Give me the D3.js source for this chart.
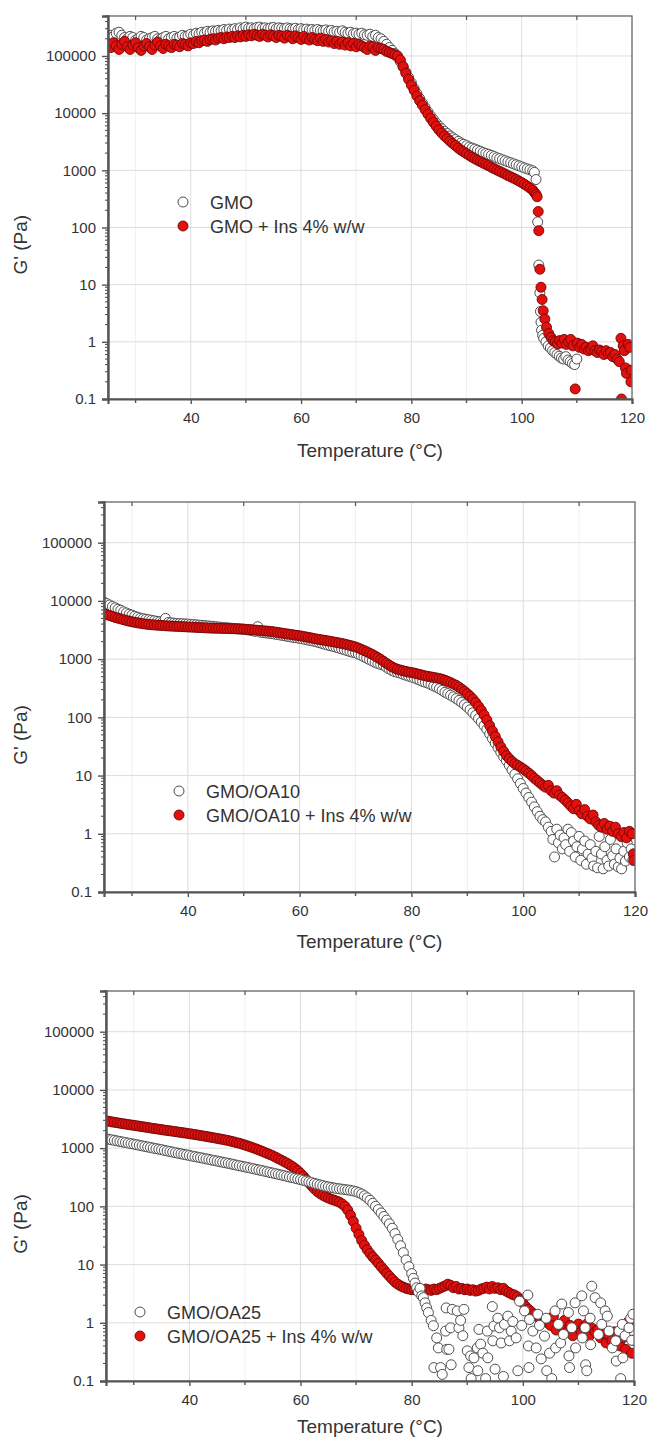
<!DOCTYPE html>
<html><head><meta charset="utf-8">
<script src="https://cdn.jsdelivr.net/npm/d3@7"></script>
<style>body{margin:0;background:#fff}svg{display:block}text{font-family:"Liberation Sans",Arial,sans-serif;fill:#333}</style>
</head><body><svg id="c" width="649" height="1440"></svg>
<script>
const xTicks=[40,60,80,100,120];
const xMinorTicks=[30,50,70,90,110];
const yTicks=[0.1,1,10,100,1000,10000,100000];
const yTickLabels=["0.1","1","10","100","1000","10000","100000"];
const xTitle="Temperature (°C)";
const yTitle="G' (Pa)";
const seriesNames=[["GMO","GMO + Ins 4% w/w"],["GMO/OA10","GMO/OA10 + Ins 4% w/w"],["GMO/OA25","GMO/OA25 + Ins 4% w/w"]];

const gmo=[[25,2.1e5],[25.5,2.3e5],[26,2.2e5],[26.5,2.5e5],[27,2.6e5],[27.5,2.3e5],[28,2.1e5],[28.5,2.0e5],[29,2.2e5],[29.5,2.1e5],[30,1.9e5],[30.5,2.0e5],[31,2.2e5],[31.5,2.1e5],[32,1.9e5],[32.5,2.0e5],[33,2.1e5],[33.5,2.2e5],[34,2.0e5],[34.5,1.95e5],[35,2.1e5],[35.5,2.2e5],[36,2.0e5],[36.5,2.1e5],[37,2.2e5],[37.5,2.05e5],[38,2.15e5],[38.5,2.3e5],[39,2.2e5],[39.5,2.25e5],[40,2.4e5],[40.5,2.3e5],[41,2.5e5],[41.5,2.45e5],[42,2.6e5],[42.5,2.5e5],[43,2.7e5],[43.5,2.6e5],[44,2.75e5],[44.5,2.7e5],[45,2.8e5],[45.5,2.75e5],[46,2.9e5],[46.5,2.8e5],[47,2.95e5],[47.5,2.85e5],[48,3.0e5],[48.5,2.9e5],[49,3.1e5],[49.5,3.0e5],[50,3.2e5],[50.5,3.05e5],[51,3.1e5],[51.5,3.0e5],[52,3.15e5],[52.5,3.2e5],[53,3.05e5],[53.5,3.1e5],[54,3.0e5],[54.5,3.1e5],[55,3.15e5],[55.5,3.0e5],[56,3.1e5],[56.5,3.05e5],[57,3.0e5],[57.5,3.1e5],[58,3.0e5],[58.5,2.95e5],[59,3.05e5],[59.5,2.9e5],[60,3.0e5],[60.5,2.9e5],[61,2.95e5],[61.5,2.85e5],[62,2.9e5],[62.5,2.8e5],[63,2.9e5],[63.5,2.8e5],[64,2.75e5],[64.5,2.85e5],[65,2.7e5],[65.5,2.8e5],[66,2.65e5],[66.5,2.7e5],[67,2.6e5],[67.5,2.75e5],[68,2.6e5],[68.5,2.5e5],[69,2.6e5],[69.5,2.45e5],[70,2.5e5],[70.5,2.4e5],[71,2.5e5],[71.5,2.35e5],[72,2.3e5],[72.5,2.4e5],[73,2.2e5],[73.5,2.3e5],[74,2.1e5],[74.5,2.0e5],[75,1.8e5],[75.5,1.6e5],[76,1.4e5],[76.5,1.25e5],[77,1.1e5],[77.5,9.5e4],[78,8e4],[78.5,6.5e4],[79,5.2e4],[79.5,4.2e4],[80,3.4e4],[80.5,2.7e4],[81,2.2e4],[81.5,1.8e4],[82,1.5e4],[82.5,1.25e4],[83,1.05e4],[83.5,8900],[84,7700],[84.5,6700],[85,5900],[85.5,5300],[86,4800],[86.5,4400],[87,4000],[87.5,3700],[88,3450],[88.5,3200],[89,3000],[89.5,2850],[90,2700],[90.5,2550],[91,2450],[91.5,2350],[92,2250],[92.5,2150],[93,2050],[93.5,1970],[94,1900],[94.5,1820],[95,1740],[95.5,1660],[96,1600],[96.5,1530],[97,1470],[97.5,1410],[98,1360],[98.5,1300],[99,1250],[99.5,1200],[100,1150],[100.5,1100],[101,1060],[101.5,1020],[102,980],[102.3,920],[102.6,690],[102.9,125],[103.1,22],[103.3,7.2],[103.4,3.4],[103.5,2.2],[103.6,1.6],[103.8,1.3],[104,1.15],[104.4,1.0],[104.8,0.85],[105.2,0.78],[105.6,0.7],[106,0.65],[106.4,0.6],[106.8,0.56],[107.2,0.52],[107.6,0.5],[108,0.55],[108.4,0.48],[108.8,0.45],[109.2,0.42],[109.6,0.4],[110,0.5]];

const gmoIns=[[25,1.6e5],[25.5,1.4e5],[26,1.7e5],[26.5,1.5e5],[27,1.3e5],[27.5,1.6e5],[28,1.8e5],[28.5,1.45e5],[29,1.3e5],[29.5,1.55e5],[30,1.7e5],[30.5,1.4e5],[31,1.25e5],[31.5,1.5e5],[32,1.65e5],[32.5,1.45e5],[33,1.3e5],[33.5,1.55e5],[34,1.75e5],[34.5,1.5e5],[35,1.35e5],[35.5,1.6e5],[36,1.5e5],[36.5,1.4e5],[37,1.6e5],[37.5,1.55e5],[38,1.45e5],[38.5,1.65e5],[39,1.6e5],[39.5,1.5e5],[40,1.7e5],[40.5,1.65e5],[41,1.8e5],[41.5,1.7e5],[42,1.85e5],[42.5,1.9e5],[43,1.8e5],[43.5,1.95e5],[44,2.0e5],[44.5,1.9e5],[45,2.05e5],[45.5,2.1e5],[46,2.0e5],[46.5,2.15e5],[47,2.1e5],[47.5,2.2e5],[48,2.1e5],[48.5,2.25e5],[49,2.15e5],[49.5,2.3e5],[50,2.2e5],[50.5,2.35e5],[51,2.25e5],[51.5,2.4e5],[52,2.3e5],[52.5,2.2e5],[53,2.4e5],[53.5,2.3e5],[54,2.15e5],[54.5,2.35e5],[55,2.25e5],[55.5,2.1e5],[56,2.3e5],[56.5,2.2e5],[57,2.05e5],[57.5,2.3e5],[58,2.2e5],[58.5,2.0e5],[59,2.25e5],[59.5,2.1e5],[60,1.95e5],[60.5,2.2e5],[61,2.0e5],[61.5,1.9e5],[62,2.1e5],[62.5,1.95e5],[63,1.85e5],[63.5,2.05e5],[64,1.8e5],[64.5,1.95e5],[65,1.75e5],[65.5,1.85e5],[66,1.65e5],[66.5,1.8e5],[67,1.6e5],[67.5,1.75e5],[68,1.55e5],[68.5,1.7e5],[69,1.5e5],[69.5,1.65e5],[70,1.45e5],[70.5,1.6e5],[71,1.5e5],[71.5,1.4e5],[72,1.3e5],[72.5,1.5e5],[73,1.45e5],[73.5,1.25e5],[74,1.4e5],[74.5,1.35e5],[75,1.3e5],[75.5,1.2e5],[76,1.15e5],[76.5,1.1e5],[77,1.05e5],[77.5,1.0e5],[78,8.5e4],[78.5,6.5e4],[79,5.0e4],[79.5,3.9e4],[80,3.1e4],[80.5,2.5e4],[81,2.0e4],[81.5,1.65e4],[82,1.38e4],[82.5,1.15e4],[83,9600],[83.5,8100],[84,6900],[84.5,5900],[85,5100],[85.5,4500],[86,4000],[86.5,3600],[87,3250],[87.5,2950],[88,2700],[88.5,2450],[89,2250],[89.5,2100],[90,1950],[90.5,1820],[91,1700],[91.5,1600],[92,1500],[92.5,1420],[93,1340],[93.5,1270],[94,1200],[94.5,1130],[95,1070],[95.5,1010],[96,960],[96.5,910],[97,860],[97.5,810],[98,770],[98.5,730],[99,690],[99.5,650],[100,610],[100.5,570],[101,530],[101.5,490],[102,450],[102.3,410],[102.6,380],[102.8,345],[103,190],[103.1,88],[103.3,18.6],[103.5,9],[103.7,5.5],[103.9,3.5],[104.2,2.5],[104.5,1.8],[104.9,1.4],[105.3,1.2],[105.7,1.05],[106.1,1.0],[106.5,0.92],[106.9,1.05],[107.3,0.95],[107.7,1.1],[108.1,0.9],[108.5,1.0],[108.9,1.1],[109.3,0.85],[109.7,0.15],[110.1,0.95],[110.5,0.8],[110.9,0.9],[111.3,0.75],[111.7,0.8],[112.1,0.7],[112.5,0.75],[112.9,0.85],[113.3,0.7],[113.7,0.65],[114.1,0.72],[114.5,0.68],[114.9,0.6],[115.3,0.7],[115.7,0.62],[116.1,0.65],[116.5,0.55],[116.9,0.6],[117.3,0.5],[117.7,0.45],[118,1.15],[118.1,0.1],[118.4,0.85],[118.6,0.7],[118.8,0.35],[119,0.28],[119.3,0.9],[119.6,0.8],[119.8,0.2],[119.9,0.32]];

const oa10=[[25,9500],[25.5,9000],[26,8500],[26.5,8000],[27,7600],[27.5,7200],[28,6900],[28.5,6500],[29,6200],[29.5,5900],[30,5700],[30.5,5450],[31,5250],[31.5,5050],[32,4950],[32.5,4850],[33,4750],[33.5,4650],[34,4550],[34.5,4450],[35,4400],[35.5,4350],[36,5000],[36.5,4250],[37,4200],[37.5,4150],[38,4100],[38.5,4080],[39,4050],[39.5,4020],[40,4000],[40.5,3960],[41,3920],[41.5,3880],[42,3840],[42.5,3800],[43,3760],[43.5,3720],[44,3680],[44.5,3640],[45,3600],[45.5,3560],[46,3520],[46.5,3480],[47,3450],[47.5,3420],[48,3380],[48.5,3340],[49,3300],[49.5,3280],[50,3250],[50.5,3200],[51,3150],[51.5,3080],[52,3000],[52.5,3600],[53,2900],[53.5,2850],[54,2820],[54.5,2780],[55,2750],[55.5,2700],[56,2650],[56.5,2600],[57,2550],[57.5,2500],[58,2450],[58.5,2400],[59,2350],[59.5,2320],[60,2280],[60.5,2230],[61,2180],[61.5,2130],[62,2080],[62.5,2030],[63,1980],[63.5,1920],[64,1860],[64.5,1800],[65,1750],[65.5,1700],[66,1650],[66.5,1600],[67,1550],[67.5,1500],[68,1450],[68.5,1400],[69,1350],[69.5,1310],[70,1280],[70.5,1220],[71,1160],[71.5,1100],[72,1040],[72.5,980],[73,930],[73.5,880],[74,840],[74.5,810],[75,790],[75.5,730],[76,680],[76.5,640],[77,610],[77.5,590],[78,575],[78.5,550],[79,530],[79.5,510],[80,495],[80.5,475],[81,455],[81.5,435],[82,415],[82.5,400],[83,385],[83.5,365],[84,345],[84.5,330],[85,310],[85.5,290],[86,270],[86.5,255],[87,240],[87.5,225],[88,210],[88.5,195],[89,180],[89.5,165],[90,150],[90.5,135],[91,120],[91.5,108],[92,95],[92.5,83],[93,72],[93.5,62],[94,52],[94.5,43],[95,36],[95.5,30],[96,25],[96.5,21],[97,18],[97.5,15],[98,12.5],[98.5,10.5],[99,8.8],[99.5,7.3],[100,6.0],[100.5,5.0],[101,4.2],[101.5,3.5],[102,2.9],[102.5,2.4],[103,2.0],[103.5,1.75],[104,1.6],[104.5,1.3],[105,1.1],[105.3,0.8],[105.6,0.4],[106,1.2],[106.3,0.7],[106.6,0.95],[107,0.55],[107.3,0.85],[107.6,0.65],[108,1.2],[108.3,0.5],[108.6,1.05],[109,0.75],[109.3,0.4],[109.6,0.6],[110,0.9],[110.3,0.35],[110.6,0.55],[111,0.75],[111.3,0.3],[111.6,0.45],[112,0.65],[112.3,0.38],[112.6,0.28],[113,0.5],[113.3,0.26],[113.6,0.9],[114,0.45],[114.3,0.25],[114.6,0.6],[115,0.35],[115.3,0.28],[115.6,0.8],[116,0.42],[116.3,0.3],[116.6,0.55],[117,0.27],[117.3,0.38],[117.6,0.25],[118,0.5],[118.3,0.34],[118.6,0.7],[119,0.4],[119.3,0.55],[119.6,0.35],[119.8,0.45]];

const oa10Ins=[[25,6000],[25.5,5800],[26,5600],[26.5,5400],[27,5200],[27.5,5050],[28,4900],[28.5,4750],[29,4600],[29.5,4480],[30,4380],[30.5,4280],[31,4200],[31.5,4120],[32,4050],[32.5,3990],[33,3940],[33.5,3900],[34,3860],[34.5,3830],[35,3800],[35.5,3770],[36,3740],[36.5,3710],[37,3690],[37.5,3670],[38,3650],[38.5,3630],[39,3610],[39.5,3590],[40,3570],[40.5,3550],[41,3530],[41.5,3510],[42,3490],[42.5,3470],[43,3450],[43.5,3430],[44,3410],[44.5,3400],[45,3390],[45.5,3380],[46,3370],[46.5,3360],[47,3350],[47.5,3340],[48,3330],[48.5,3320],[49,3310],[49.5,3300],[50,3280],[50.5,3250],[51,3220],[51.5,3190],[52,3160],[52.5,3130],[53,3100],[53.5,3070],[54,3040],[54.5,3010],[55,2980],[55.5,2930],[56,2880],[56.5,2830],[57,2780],[57.5,2730],[58,2690],[58.5,2650],[59,2600],[59.5,2560],[60,2520],[60.5,2470],[61,2420],[61.5,2370],[62,2320],[62.5,2270],[63,2220],[63.5,2180],[64,2140],[64.5,2100],[65,2060],[65.5,2020],[66,1980],[66.5,1940],[67,1900],[67.5,1860],[68,1820],[68.5,1770],[69,1720],[69.5,1670],[70,1620],[70.5,1550],[71,1480],[71.5,1410],[72,1340],[72.5,1270],[73,1200],[73.5,1130],[74,1060],[74.5,990],[75,920],[75.5,850],[76,790],[76.5,740],[77,700],[77.5,670],[78,650],[78.5,630],[79,615],[79.5,600],[80,590],[80.5,575],[81,560],[81.5,545],[82,530],[82.5,515],[83,505],[83.5,495],[84,485],[84.5,475],[85,465],[85.5,450],[86,435],[86.5,415],[87,395],[87.5,375],[88,355],[88.5,330],[89,305],[89.5,280],[90,255],[90.5,230],[91,205],[91.5,180],[92,155],[92.5,132],[93,110],[93.5,90],[94,72],[94.5,58],[95,47],[95.5,38],[96,31],[96.5,26],[97,22],[97.5,19.5],[98,17.5],[98.5,16],[99,15],[99.5,14],[100,13],[100.5,12],[101,11],[101.5,10],[102,9],[102.5,8.2],[103,7.5],[103.5,6.8],[104,6.3],[104.5,6.8],[105,5.5],[105.5,5.0],[106,5.5],[106.5,4.6],[107,4.2],[107.5,3.8],[108,3.4],[108.5,3.0],[109,2.7],[109.5,3.2],[110,2.5],[110.5,2.2],[111,2.6],[111.5,2.0],[112,1.8],[112.5,2.1],[113,1.6],[113.5,1.4],[114,1.3],[114.5,1.5],[115,1.2],[115.5,1.35],[116,1.1],[116.5,1.3],[117,1.0],[117.5,0.9],[118,1.05],[118.5,0.85],[119,1.1],[119.5,1.0],[119.7,0.45],[119.8,0.35]];

const oa25=[[25,1450],[25.5,1420],[26,1390],[26.5,1360],[27,1330],[27.5,1300],[28,1275],[28.5,1250],[29,1220],[29.5,1195],[30,1170],[30.5,1145],[31,1120],[31.5,1095],[32,1070],[32.5,1045],[33,1025],[33.5,1000],[34,980],[34.5,960],[35,940],[35.5,915],[36,895],[36.5,875],[37,855],[37.5,835],[38,815],[38.5,800],[39,780],[39.5,765],[40,750],[40.5,730],[41,715],[41.5,700],[42,685],[42.5,670],[43,655],[43.5,640],[44,625],[44.5,612],[45,600],[45.5,585],[46,572],[46.5,560],[47,548],[47.5,535],[48,522],[48.5,510],[49,498],[49.5,487],[50,476],[50.5,465],[51,454],[51.5,443],[52,432],[52.5,422],[53,412],[53.5,402],[54,392],[54.5,382],[55,373],[55.5,364],[56,355],[56.5,346],[57,337],[57.5,328],[58,320],[58.5,312],[59,304],[59.5,296],[60,288],[60.5,280],[61,272],[61.5,264],[62,256],[62.5,248],[63,241],[63.5,234],[64,227],[64.5,221],[65,216],[65.5,211],[66,207],[66.5,203],[67,200],[67.5,197],[68,194],[68.5,191],[69,188],[69.5,184],[70,179],[70.5,172],[71,163],[71.5,152],[72,140],[72.5,127],[73,113],[73.5,100],[74,88],[74.5,77],[75,67],[75.5,58],[76,50],[76.5,42],[77,34],[77.5,27],[78,21],[78.5,16],[79,12],[79.5,9.2],[80,7.0],[80.3,5.8],[80.6,4.8],[80.9,4.0],[81.2,3.4],[81.5,3.9],[81.8,2.9],[82.1,2.7],[82.4,2.2],[82.7,1.8],[83,1.5],[83.5,1.1],[83.9,0.89],[84,0.17],[84.5,0.55],[84.8,0.37],[85.2,0.17],[85.5,0.13],[86.1,0.72],[86.2,1.8],[86.3,0.35],[86.7,0.35],[87,0.82],[87.1,0.19],[87.3,1.7],[88.2,1.6],[88.5,0.82],[88.8,1.1],[89.2,0.6],[89.4,1.7],[90,0.33],[90.3,0.17],[90.6,0.27],[90.7,0.11],[91.2,0.25],[91.8,0.37],[91.9,0.15],[92.1,0.77],[92.4,0.43],[92.8,0.3],[93.3,0.11],[93.6,0.72],[93.7,0.25],[94.5,1.9],[94.6,0.49],[94.8,0.88],[95,0.16],[95.5,1.2],[95.8,0.82],[96.1,0.45],[96.5,0.12],[96.7,0.94],[97.3,1.3],[97.6,0.49],[97.9,0.72],[98.2,1.05],[98.8,0.55],[99.1,0.15],[99.4,2.35],[99.8,0.9],[100.3,1.6],[100.9,3.0],[101,0.4],[101.1,0.17],[101.2,1.14],[101.8,0.72],[102.4,0.37],[102.7,1.4],[103,0.9],[103.3,0.24],[103.9,0.59],[104.2,1.2],[104.3,0.15],[104.8,0.3],[105.2,0.11],[105.8,1.6],[105.9,0.37],[106.4,0.94],[106.8,0.45],[107,2.1],[107.3,0.63],[108.2,1.5],[108.3,0.27],[108.4,0.17],[108.8,0.82],[109.4,2.2],[109.5,0.37],[110.6,2.9],[110.7,0.55],[110.9,1.6],[111.2,0.82],[111.3,0.19],[111.5,0.15],[112.1,1.2],[112.2,0.42],[112.4,4.25],[113,2.7],[113.6,0.63],[114,2.2],[114.2,0.94],[114.8,1.6],[115.2,1.3],[115.5,0.72],[116.1,0.37],[116.7,0.49],[116.8,0.22],[117.3,0.72],[117.6,0.11],[117.9,0.94],[118,0.25],[118.4,0.6],[119.1,0.82],[119.4,1.2],[119.6,0.5],[119.8,1.4]];

const oa25Ins=[[25,2950],[25.5,2890],[26,2830],[26.5,2780],[27,2730],[27.5,2680],[28,2630],[28.5,2590],[29,2540],[29.5,2500],[30,2460],[30.5,2420],[31,2380],[31.5,2340],[32,2300],[32.5,2260],[33,2220],[33.5,2180],[34,2150],[34.5,2110],[35,2080],[35.5,2040],[36,2010],[36.5,1980],[37,1950],[37.5,1920],[38,1890],[38.5,1860],[39,1830],[39.5,1800],[40,1770],[40.5,1740],[41,1710],[41.5,1680],[42,1650],[42.5,1620],[43,1590],[43.5,1560],[44,1530],[44.5,1500],[45,1470],[45.5,1440],[46,1410],[46.5,1380],[47,1350],[47.5,1310],[48,1280],[48.5,1240],[49,1210],[49.5,1170],[50,1130],[50.5,1090],[51,1050],[51.5,1010],[52,970],[52.5,930],[53,890],[53.5,850],[54,810],[54.5,775],[55,740],[55.5,700],[56,660],[56.5,625],[57,590],[57.5,555],[58,520],[58.5,485],[59,450],[59.5,410],[60,370],[60.5,330],[61,290],[61.5,255],[62,225],[62.5,200],[63,180],[63.5,166],[64,155],[64.5,146],[65,139],[65.5,133],[66,128],[66.5,123],[67,118],[67.5,110],[68,100],[68.5,86],[69,70],[69.5,55],[70,42],[70.5,33],[71,26],[71.5,21.5],[72,18],[72.5,15.5],[73,13.5],[73.5,12],[74,10.5],[74.5,9.2],[75,8.1],[75.5,7.1],[76,6.3],[76.5,5.6],[77,5.0],[77.5,4.6],[78,4.3],[78.5,4.1],[79,3.9],[79.5,3.8],[80,3.7],[80.5,3.7],[81,3.6],[81.5,3.7],[82,3.6],[82.5,3.8],[83,3.7],[83.5,3.6],[84,3.8],[84.5,3.7],[85,3.9],[85.5,4.1],[86,4.3],[86.5,4.6],[87,4.4],[87.5,4.0],[88,4.2],[88.5,3.8],[89,3.9],[89.5,3.7],[90,3.8],[90.5,3.6],[91,3.7],[91.5,3.5],[92,3.6],[92.5,3.8],[93,3.9],[93.5,4.1],[94,3.8],[94.5,4.2],[95,3.9],[95.5,4.0],[96,3.7],[96.5,3.9],[97,3.5],[97.5,3.3],[98,3.1],[98.5,3.0],[99,2.8],[99.5,2.5],[100,2.2],[100.5,1.9],[101,1.7],[101.5,1.55],[102,1.4],[102.5,1.3],[103,1.2],[103.5,1.15],[104,1.05],[104.5,1.0],[105,0.9],[105.5,1.3],[106,0.75],[106.5,0.95],[107,0.85],[107.5,1.1],[108,0.7],[108.5,0.9],[109,0.6],[109.5,0.85],[110,0.95],[110.5,0.7],[111,0.85],[111.5,0.95],[112,0.6],[112.5,0.8],[113,0.7],[113.5,0.75],[114,0.55],[114.5,0.65],[115,0.45],[115.5,0.6],[116,0.5],[116.5,0.7],[117,0.45],[117.5,0.4],[118,0.55],[118.5,0.35],[119,1.05],[119.3,0.95],[119.6,0.3],[119.8,0.5]];

const panels=[
 {top:16,bottom:399,left:108,right:632,lx:183,ly:202,open:gmo,fill:gmoIns,names:seriesNames[0],redFirst:false,ytx:27,tOff:58},
 {top:502,bottom:892,left:104,right:635,lx:179,ly:791,open:oa10,fill:oa10Ins,names:seriesNames[1],redFirst:false,ytx:27,tOff:56},
 {top:991,bottom:1381,left:106,right:634,lx:140,ly:1312,open:oa25,fill:oa25Ins,names:seriesNames[2],redFirst:true,ytx:27,tOff:52}
];

const svg=d3.select("#c");
const R=5;
const openStyle=s=>s.attr("fill","#fff").attr("stroke","#4d4d4d").attr("stroke-width",1);
const fillStyle=s=>s.attr("fill","#e3100d").attr("stroke","#6e0707").attr("stroke-width",0.9);

panels.forEach((p,i)=>{
  const g=svg.append("g");
  const x=d3.scaleLinear().domain([25,120]).range([p.left,p.right]);
  const y=d3.scaleLog().domain([0.1,5e5]).range([p.bottom,p.top]);
  const minorY=y.ticks().filter(v=>!yTicks.some(t=>Math.abs(t-v)/t<1e-6));
  g.append("g").selectAll("line").data(xMinorTicks).join("line")
    .attr("x1",d=>x(d)).attr("x2",d=>x(d)).attr("y1",p.top).attr("y2",p.bottom)
    .attr("stroke","#efefef").attr("stroke-width",1);
  g.append("g").selectAll("line").data(xTicks.slice(0,-1)).join("line")
    .attr("x1",d=>x(d)).attr("x2",d=>x(d)).attr("y1",p.top).attr("y2",p.bottom)
    .attr("stroke","#dcdcdc").attr("stroke-width",1);
  g.append("g").selectAll("line").data(yTicks.slice(1)).join("line")
    .attr("x1",p.left).attr("x2",p.right).attr("y1",d=>y(d)).attr("y2",d=>y(d))
    .attr("stroke","#dcdcdc").attr("stroke-width",1);
  const cid="clip"+i;
  g.append("clipPath").attr("id",cid).append("rect")
    .attr("x",p.left).attr("y",p.top).attr("width",p.right-p.left).attr("height",p.bottom-p.top);
  const pts=g.append("g").attr("clip-path","url(#"+cid+")");
  const drawOpen=()=>pts.append("g").selectAll("circle").data(p.open).join("circle")
      .attr("cx",d=>x(d[0])).attr("cy",d=>y(d[1])).attr("r",R).call(openStyle);
  const drawFill=()=>pts.append("g").selectAll("circle").data(p.fill).join("circle")
      .attr("cx",d=>x(d[0])).attr("cy",d=>y(d[1])).attr("r",R).call(fillStyle);
  if(p.redFirst){drawFill();drawOpen();}else{drawOpen();drawFill();}
  g.append("rect").attr("x",p.left).attr("y",p.top).attr("width",p.right-p.left).attr("height",p.bottom-p.top)
    .attr("fill","none").attr("stroke","#666").attr("stroke-width",1.3);
  const xa=g.append("g").attr("transform",`translate(0,${p.bottom})`)
    .call(d3.axisBottom(x).tickValues(xTicks).tickSize(5).tickPadding(8).tickFormat(d3.format("d")));
  xa.select(".domain").attr("stroke","#555").attr("stroke-width",2.2);
  xa.selectAll(".tick line").attr("stroke","#555").attr("stroke-width",1.4);
  xa.selectAll("text").attr("font-size",15).attr("fill","#3a3a3a");
  g.append("g").selectAll("line").data(xMinorTicks).join("line")
    .attr("x1",d=>x(d)).attr("x2",d=>x(d)).attr("y1",p.bottom).attr("y2",p.bottom+4)
    .attr("stroke","#555").attr("stroke-width",1.4);
  g.append("g").selectAll("line").data(xMinorTicks).join("line")
    .attr("x1",d=>x(d)).attr("x2",d=>x(d)).attr("y1",p.top).attr("y2",p.top+4)
    .attr("stroke","#555").attr("stroke-width",1.2);
  const ya=g.append("g").attr("transform",`translate(${p.left},0)`)
    .call(d3.axisLeft(y).tickValues(yTicks).tickSize(6).tickPadding(6).tickFormat((d,k)=>yTickLabels[k]));
  ya.select(".domain").attr("stroke","#555").attr("stroke-width",2.4);
  ya.selectAll(".tick line").attr("stroke","#555").attr("stroke-width",1.4);
  ya.selectAll("text").attr("font-size",15).attr("fill","#3a3a3a");
  g.append("g").selectAll("line").data(minorY).join("line")
    .attr("x1",p.left-3).attr("x2",p.left).attr("y1",d=>y(d)).attr("y2",d=>y(d))
    .attr("stroke","#555").attr("stroke-width",1.1);
  g.append("text").attr("x",(p.left+p.right)/2).attr("y",p.bottom+p.tOff).attr("text-anchor","middle")
    .attr("font-size",19).attr("fill","#333").text(xTitle);
  g.append("text").attr("transform",`translate(${p.ytx},${y(50)}) rotate(-90)`).attr("text-anchor","middle")
    .attr("font-size",19).attr("fill","#333").text(yTitle);
  const lg=g.append("g");
  lg.append("circle").attr("cx",p.lx).attr("cy",p.ly).attr("r",R).call(openStyle);
  lg.append("circle").attr("cx",p.lx).attr("cy",p.ly+24).attr("r",R).call(fillStyle);
  lg.append("text").attr("x",p.lx+27).attr("y",p.ly+6.5).attr("font-size",18).attr("fill","#333").text(p.names[0]);
  lg.append("text").attr("x",p.lx+27).attr("y",p.ly+30.5).attr("font-size",18).attr("fill","#333").text(p.names[1]);
});
</script></body></html>
